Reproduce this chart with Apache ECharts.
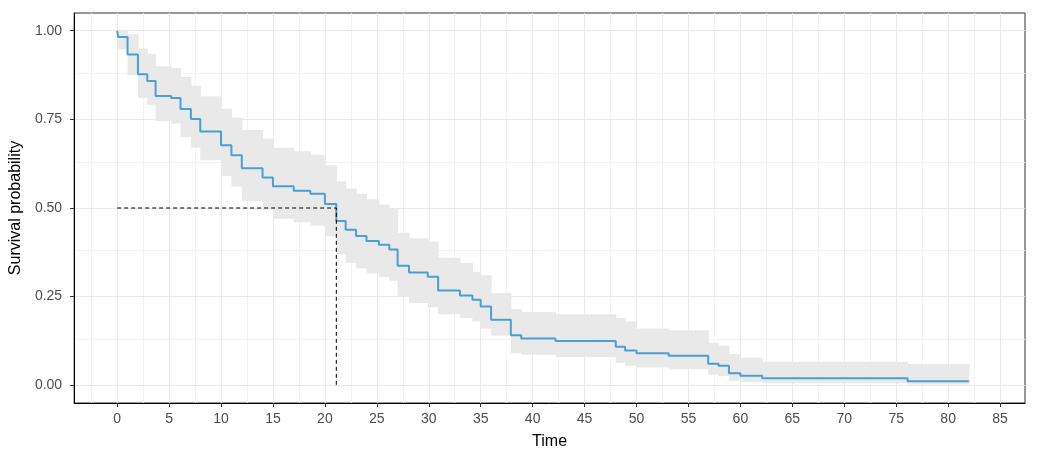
<!DOCTYPE html>
<html>
<head>
<meta charset="utf-8">
<script src="https://cdn.jsdelivr.net/npm/echarts@6/dist/echarts.min.js"></script>
<style>html,body{margin:0;padding:0;background:#fff}#c{width:1037px;height:455px}</style>
</head>
<body>
<div id="c"></div>
<script>
// ---- data ----
const times = [0, 0.1, 1, 2, 2.9, 3.7, 5.2, 6.1, 7.1, 8, 10, 11, 12, 14, 15, 17, 18.6, 20, 21.1, 22, 23, 24, 25.2, 26.2, 27, 28.1, 29.9, 30.9, 33, 34.2, 35, 36, 37.9, 38.9, 42.2, 48, 48.9, 50, 53.1, 56.9, 57.9, 58.9, 60, 62.1, 76.1, 82];
const surv = [1, 0.982, 0.933, 0.877, 0.858, 0.816, 0.81, 0.779, 0.751, 0.716, 0.677, 0.649, 0.612, 0.586, 0.561, 0.549, 0.54, 0.511, 0.463, 0.439, 0.421, 0.407, 0.396, 0.383, 0.337, 0.318, 0.306, 0.267, 0.253, 0.241, 0.222, 0.185, 0.141, 0.132, 0.125, 0.109, 0.098, 0.09, 0.083, 0.061, 0.055, 0.034, 0.027, 0.02, 0.011, 0.011];
const upper = [1, 1, 0.99, 0.95, 0.935, 0.9, 0.895, 0.87, 0.845, 0.815, 0.78, 0.755, 0.72, 0.695, 0.67, 0.66, 0.65, 0.62, 0.575, 0.555, 0.54, 0.525, 0.51, 0.5, 0.43, 0.415, 0.405, 0.36, 0.345, 0.32, 0.31, 0.26, 0.215, 0.207, 0.2, 0.19, 0.18, 0.16, 0.155, 0.12, 0.112, 0.088, 0.078, 0.066, 0.06, 0.06];
const lower = [1, 0.947, 0.875, 0.81, 0.79, 0.745, 0.738, 0.7, 0.67, 0.635, 0.59, 0.56, 0.52, 0.495, 0.47, 0.46, 0.45, 0.42, 0.37, 0.345, 0.33, 0.315, 0.305, 0.295, 0.25, 0.232, 0.22, 0.2, 0.19, 0.18, 0.16, 0.14, 0.09, 0.086, 0.08, 0.063, 0.055, 0.05, 0.045, 0.03, 0.026, 0.013, 0.009, 0.006, 0.002, 0.002];
const medianTime = 21.1;
const medianSurv = 0.5;
const xTicks = [0, 5, 10, 15, 20, 25, 30, 35, 40, 45, 50, 55, 60, 65, 70, 75, 80, 85];
const xMinorTicks = [-2.5, 2.5, 7.5, 12.5, 17.5, 22.5, 27.5, 32.5, 37.5, 42.5, 47.5, 52.5, 57.5, 62.5, 67.5, 72.5, 77.5, 82.5, 87.5];
const yTicks = [0, 0.25, 0.5, 0.75, 1];
const yTickLabels = ['0.00', '0.25', '0.50', '0.75', '1.00'];
const yMinorTicks = [0.125, 0.375, 0.625, 0.875];

// ---- build ----
const stepData = times.map((t, i) => [t, surv[i]]);
const bandData = [];
for (let i = 0; i < times.length - 1; i++) bandData.push([times[i], times[i + 1], lower[i], upper[i]]);

const gridLines = [];
xMinorTicks.forEach(v => gridLines.push({xAxis: v, lineStyle: {color: '#f3f3f3', width: 1, type: 'solid'}}));
yMinorTicks.forEach(v => gridLines.push({yAxis: v, lineStyle: {color: '#f3f3f3', width: 1, type: 'solid'}}));
xTicks.forEach(v => gridLines.push({xAxis: v, lineStyle: {color: '#e9e9e9', width: 1, type: 'solid'}}));
yTicks.forEach(v => gridLines.push({yAxis: v, lineStyle: {color: '#e9e9e9', width: 1, type: 'solid'}}));

const font = "'Liberation Sans', Arial, sans-serif";
const chart = echarts.init(document.getElementById('c'), null, {renderer: 'canvas'});
chart.setOption({
  animation: false,
  backgroundColor: '#ffffff',
  grid: {left: 74, right: 12, top: 13, bottom: 47, show: true, borderColor: '#333333', borderWidth: 1, backgroundColor: 'transparent'},
  xAxis: {
    type: 'value', min: -4.14, max: 87.4,
    name: 'Time', nameLocation: 'middle', nameGap: 31,
    nameTextStyle: {color: '#000', fontSize: 16, fontFamily: font},
    axisLine: {show: true, onZero: false, lineStyle: {color: '#000', width: 1}},
    axisTick: {show: true, customValues: xTicks, length: 4, lineStyle: {color: '#333'}},
    axisLabel: {customValues: xTicks, color: '#4d4d4d', fontSize: 14, fontFamily: font, margin: 9},
    splitLine: {show: false}
  },
  yAxis: {
    type: 'value', min: -0.05, max: 1.05,
    name: 'Survival probability', nameLocation: 'middle', nameGap: 50,
    nameTextStyle: {color: '#000', fontSize: 16, fontFamily: font},
    axisLine: {show: true, onZero: false, lineStyle: {color: '#000', width: 1}},
    axisTick: {show: true, customValues: yTicks, length: 4, lineStyle: {color: '#333'}},
    axisLabel: {customValues: yTicks, color: '#4d4d4d', fontSize: 14, fontFamily: font, margin: 12,
      formatter: v => { const i = yTicks.findIndex(t => Math.abs(t - v) < 1e-9); return i >= 0 ? yTickLabels[i] : ''; }},
    splitLine: {show: false}
  },
  series: [
    {type: 'line', data: [], z: 0, silent: true,
     markLine: {silent: true, z: 0, symbol: ['none', 'none'], label: {show: false}, animation: false, data: gridLines}},
    {type: 'custom', z: 1, silent: true, data: bandData,
     encode: {x: [0, 1], y: [2, 3]},
     renderItem: (params, api) => {
       const p1 = api.coord([api.value(0), api.value(3)]);
       const p2 = api.coord([api.value(1), api.value(2)]);
       return {type: 'rect', shape: {x: p1[0], y: p1[1], width: p2[0] - p1[0] + 0.6, height: p2[1] - p1[1]},
               style: {fill: '#e9e9e9'}};
     }},
    {type: 'line', z: 3, step: 'end', data: stepData, showSymbol: false, symbol: 'none',
     lineStyle: {color: '#4a9fd4', width: 2}},
    {type: 'line', z: 4, data: [[0, medianSurv], [medianTime, medianSurv], [medianTime, 0]], showSymbol: false, symbol: 'none',
     lineStyle: {color: '#000', width: 1, type: [4, 3]}}
  ]
});
</script>
</body>
</html>
